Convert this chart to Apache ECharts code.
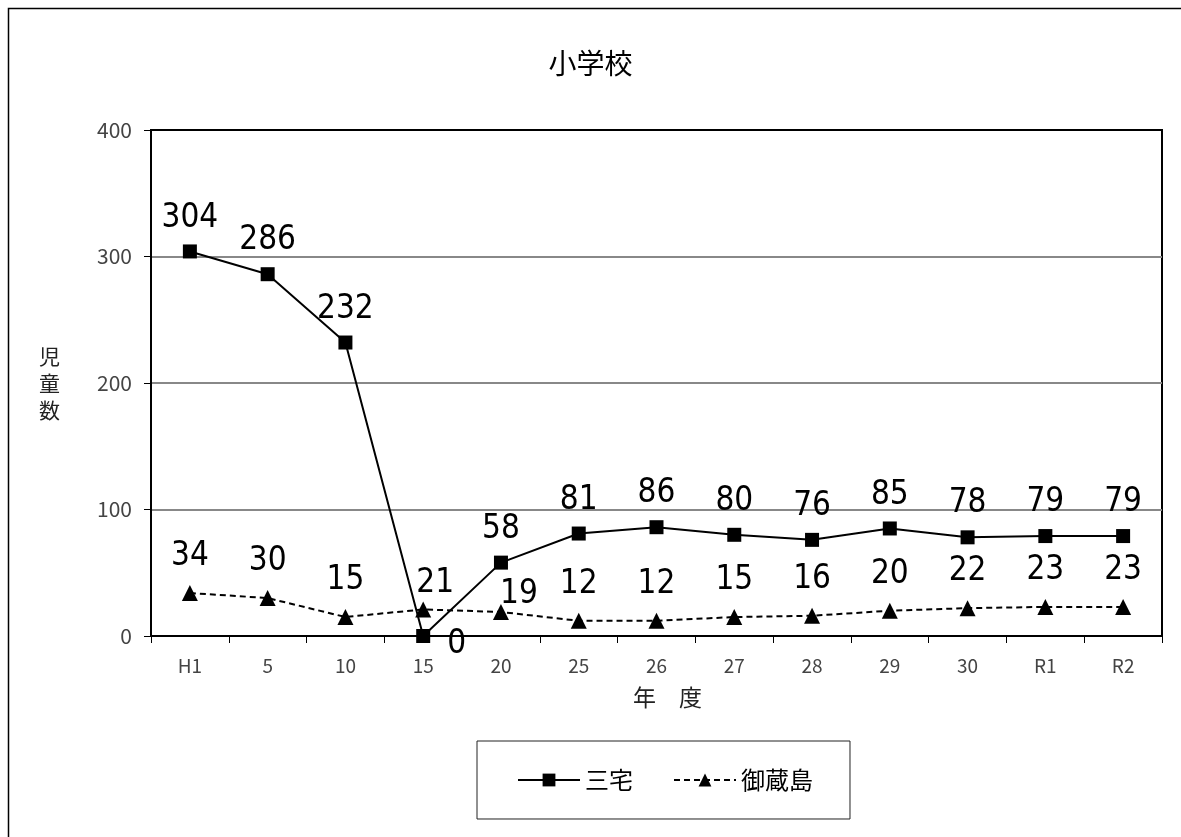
<!DOCTYPE html>
<html>
<head>
<meta charset="utf-8">
<script src="https://cdn.jsdelivr.net/npm/echarts@6/dist/echarts.min.js"></script>
<style>
html, body { margin: 0; padding: 0; background: #fff; }
#chart { width: 1181px; height: 837px; }
</style>
</head>
<body>
<div id="chart"></div>
<script>
// 年度
const categories = ['H1', '5', '10', '15', '20', '25', '26', '27', '28', '29', '30', 'R1', 'R2'];
// 児童数
const miyake = [304, 286, 232, 0, 58, 81, 86, 80, 76, 85, 78, 79, 79];
const mikurajima = [34, 30, 15, 21, 19, 12, 12, 15, 16, 20, 22, 23, 23];
const yTicks = [0, 100, 200, 300, 400];

const FONT = '"Noto Sans CJK JP", "Noto Sans", sans-serif';
const NUM_FONT = '"Liberation Sans Narrow", "DejaVu Sans Condensed", "Noto Sans CJK JP", sans-serif';

// 重なりを避けるため一部の値ラベルだけ位置をずらす
const miyakeLabelShift = { 3: { position: 'right', offset: [7, 8], distance: 10 } };
const mikuraLabelShift = { 3: { offset: [12, 10] }, 4: { offset: [18, 19] } };

function withLabels(values, shifts) {
  return values.map((v, i) => shifts[i] ? { value: v, label: shifts[i] } : v);
}

const chart = echarts.init(document.getElementById('chart'), null, { renderer: 'canvas' });

chart.setOption({
  backgroundColor: '#ffffff',
  animation: false,
  textStyle: { fontFamily: FONT },
  title: {
    text: '小学校',
    left: 'center',
    top: 44,
    textStyle: { fontFamily: FONT, fontSize: 28, fontWeight: 'normal', color: '#000' }
  },
  grid: {
    left: 151, top: 130, width: 1011, height: 506,
    show: true, borderColor: '#000', borderWidth: 2, backgroundColor: 'transparent'
  },
  legend: {
    left: 477, top: 741,
    padding: [27, 37, 27, 40],
    borderColor: '#222', borderWidth: 1,
    itemWidth: 62, itemHeight: 16, itemGap: 40,
    textStyle: { fontFamily: FONT, fontSize: 24, color: '#000' },
    data: ['三宅', '御蔵島']
  },
  xAxis: {
    type: 'category',
    data: categories,
    boundaryGap: true,
    axisLine: { lineStyle: { color: '#000', width: 2 } },
    axisTick: { show: true, length: 7, lineStyle: { color: '#000', width: 1 } },
    axisLabel: { fontFamily: FONT, fontSize: 19, color: '#444', margin: 20 }
  },
  yAxis: {
    type: 'value',
    min: yTicks[0], max: yTicks[yTicks.length - 1], interval: 100,
    axisLine: { show: true, lineStyle: { color: '#000', width: 2 } },
    axisTick: { show: true, length: 7, lineStyle: { color: '#000', width: 1 } },
    axisLabel: { fontFamily: FONT, fontSize: 21, color: '#444', margin: 19 },
    splitLine: { show: true, lineStyle: { color: ['#000', '#888', '#888', '#888', '#000'], width: 2 } }
  },
  graphic: [
    {
      type: 'rect', silent: true, z: -1,
      shape: { x: 8.5, y: 8.5, width: 1200, height: 900 },
      style: { fill: 'none', stroke: '#000', lineWidth: 1.5 }
    },
    {
      type: 'text', left: 39, top: 343,
      style: { text: '児\n童\n数', font: '21px ' + FONT, fill: '#222', lineHeight: 27 }
    },
    {
      type: 'text', left: 633, top: 686,
      style: { text: '年　度', font: '23px ' + FONT, fill: '#222' }
    }
  ],
  series: [
    {
      name: '三宅',
      type: 'line',
      data: withLabels(miyake, miyakeLabelShift),
      symbol: 'rect', symbolSize: 14,
      itemStyle: { color: '#000' },
      lineStyle: { color: '#000', width: 2 },
      label: {
        show: true, position: 'top', distance: 10,
        fontFamily: NUM_FONT, fontSize: 33, color: '#000'
      },
      z: 3
    },
    {
      name: '御蔵島',
      type: 'line',
      data: withLabels(mikurajima, mikuraLabelShift),
      symbol: 'triangle', symbolSize: 16,
      itemStyle: { color: '#000' },
      lineStyle: { color: '#000', width: 2, type: [6, 4] },
      label: {
        show: true, position: 'top', distance: 12,
        fontFamily: NUM_FONT, fontSize: 33, color: '#000'
      },
      z: 2
    }
  ]
});
</script>
</body>
</html>
